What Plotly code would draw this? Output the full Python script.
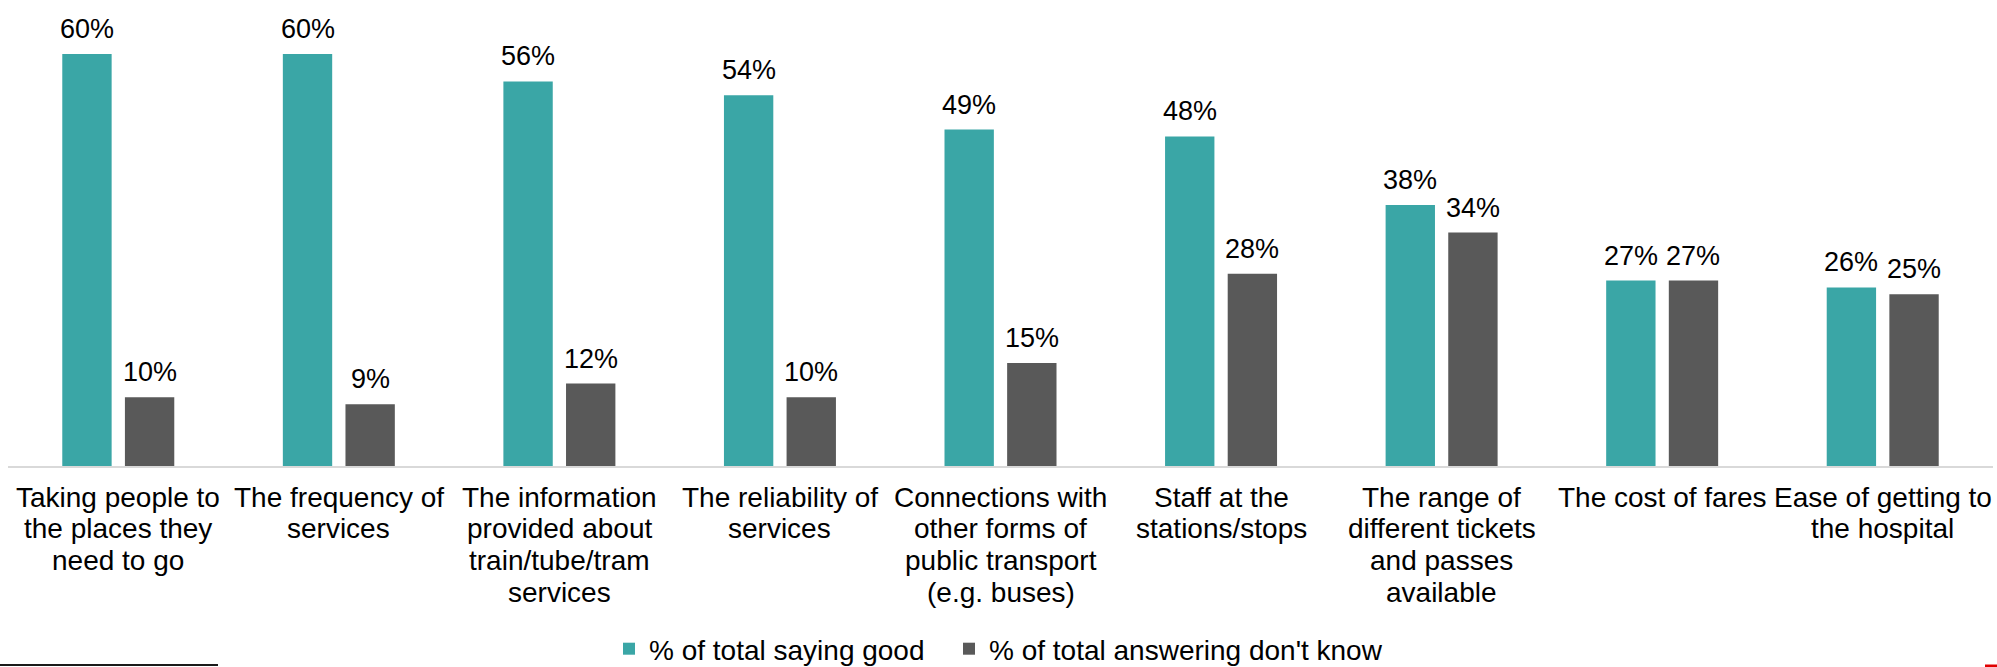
import plotly.graph_objects as go

# Survey results: rating of rail/tube/tram services
categories = [
    "Taking people to<br>the places they<br>need to go",
    "The frequency of<br>services",
    "The information<br>provided about<br>train/tube/tram<br>services",
    "The reliability of<br>services",
    "Connections with<br>other forms of<br>public transport<br>(e.g. buses)",
    "Staff at the<br>stations/stops",
    "The range of<br>different tickets<br>and passes<br>available",
    "The cost of fares",
    "Ease of getting to<br>the hospital",
]
saying_good = [60, 60, 56, 54, 49, 48, 38, 27, 26]
dont_know = [10, 9, 12, 10, 15, 28, 34, 27, 25]
series_names = ["% of total saying good", "% of total answering don't know"]

TEAL = "#3AA6A6"
GREY = "#595959"
FONT = "Liberation Sans, Arial, sans-serif"
FS_LABEL = 27
FS = 28

W, H = 1997, 667
ML, MR, MT, MB = 8, 4, 0, 201
plot_h = H - MT - MB

BARGAP = 0.432
BARGROUPGAP = 0.212
slot = (1 - BARGAP) / 2          # width of each bar slot within a group
offsets = [-slot / 2, slot / 2]  # bar centres relative to the category

fig = go.Figure()
for k, (name, vals, col) in enumerate([(series_names[0], saying_good, TEAL),
                                       (series_names[1], dont_know, GREY)]):
    fig.add_trace(go.Bar(
        x=list(range(len(categories))), y=vals, name=name,
        marker=dict(color=col, line=dict(width=0)),
        legendwidth=295 if k == 0 else None,
    ))
    # value labels above each bar
    for i, v in enumerate(vals):
        fig.add_annotation(
            x=i + offsets[k], xref="x", y=v, yref="y", text=f"{v}%",
            showarrow=False, xanchor="center", yanchor="bottom", yshift=8,
            font=dict(family=FONT, size=FS_LABEL, color="#000000"),
        )

# Category labels, one annotation per line for tighter line spacing
LINE_STEP = 31.7
FIRST_OFFSET = 31
for i, lab in enumerate(categories):
    for j, line in enumerate(lab.split("<br>")):
        fig.add_annotation(
            x=i, xref="x", y=0, yref="paper", text=line, showarrow=False,
            xanchor="center", yanchor="middle",
            yshift=-(FIRST_OFFSET + LINE_STEP * j),
            font=dict(family=FONT, size=FS, color="#000000"),
        )

def px_x(p):
    return (p - ML) / (W - ML - MR)

def px_y(p):
    return (MT + plot_h - p) / plot_h

# footnote rule at bottom left and small red mark at bottom right
fig.add_shape(type="line", xref="paper", yref="paper",
              x0=px_x(0), x1=px_x(218), y0=px_y(665), y1=px_y(665),
              line=dict(color="#1a1a1a", width=2))
fig.add_shape(type="line", xref="paper", yref="paper",
              x0=px_x(1985), x1=px_x(1997), y0=px_y(666), y1=px_y(666),
              line=dict(color="#e00000", width=3))

fig.update_layout(
    width=W, height=H,
    margin=dict(l=ML, r=MR, t=MT, b=MB, pad=0, autoexpand=False),
    paper_bgcolor="white", plot_bgcolor="white",
    barmode="group", bargap=BARGAP, bargroupgap=BARGROUPGAP,
    font=dict(family=FONT, size=FS, color="#000000"),
    showlegend=True,
    legend=dict(orientation="h", x=px_x(609), xanchor="left",
                y=px_y(649), yanchor="middle",
                font=dict(family=FONT, size=FS, color="#000000"),
                bgcolor="rgba(0,0,0,0)"),
    xaxis=dict(range=[-0.5, len(categories) - 0.5], showticklabels=False,
               showline=True, linecolor="#D9D9D9", linewidth=2,
               showgrid=False, zeroline=False, ticks="", fixedrange=True),
    yaxis=dict(range=[0, plot_h / 6.867], visible=False, showgrid=False,
               zeroline=False, fixedrange=True),
)

fig.write_html("out.html")
